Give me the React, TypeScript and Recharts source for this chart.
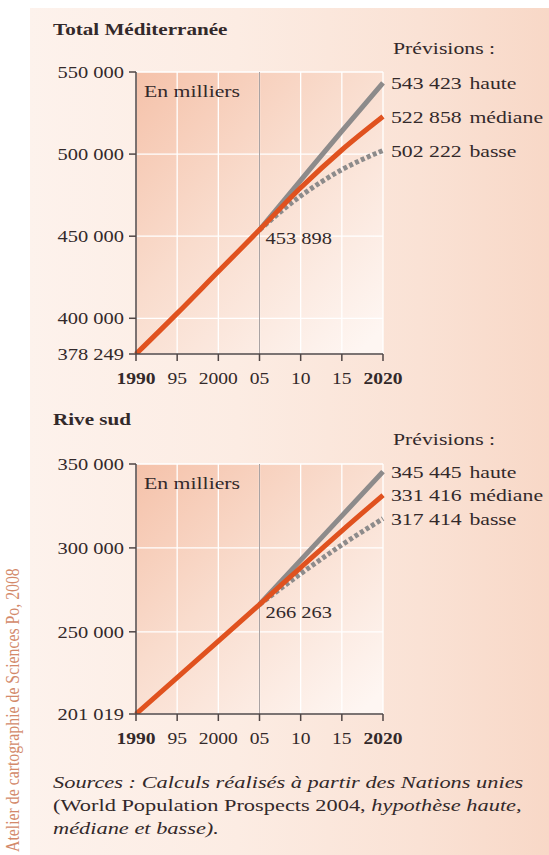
import React from 'react';
import { LineChart, Line, XAxis, YAxis, CartesianGrid, ReferenceLine, LabelList } from 'recharts';

const years = [1990, 1995, 2000, 2005, 2010, 2015, 2020];
const yearLabels = ['1990', '95', '2000', '05', '10', '15', '2020'];

const totalMediane = [378249, 403000, 428500, 453898, 479500, 502500, 522858];
const totalHaute = [null, null, null, 453898, 484000, 514000, 543423];
const totalBasse = [null, null, null, 453898, 474500, 490500, 502222];
const totalTicks = [378249, 400000, 450000, 500000, 550000];

const sudMediane = [201019, 222700, 244500, 266263, 288300, 310200, 331416];
const sudHaute = [null, null, null, 266263, 292700, 319100, 345445];
const sudBasse = [null, null, null, 266263, 284600, 301800, 317414];
const sudTicks = [201019, 250000, 300000, 350000];

const FONT = '"Liberation Serif", "Times New Roman", serif';
const TEXT = '#33292a';
const AXIS = '#4f4646';
const ORANGE = '#e0521f';
const GREY = '#8d8b8b';
const S = 1.28;

const fr = (v: number) => String(v).replace(/\B(?=(\d{3})+(?!\d))/g, ' ');

const YTick = (props: any) => {
  const { x, y, payload } = props;
  return (
    <text transform={`translate(${x},${y}) scale(${S},1)`} textAnchor="end" dy="0.36em"
      fontSize={16} fontFamily={FONT} fill={TEXT}>
      {fr(payload.value)}
    </text>
  );
};

const XTick = (props: any) => {
  const { x, y, payload } = props;
  const i = years.indexOf(payload.value);
  const bold = i === 0 || i === years.length - 1;
  return (
    <text transform={`translate(${x},${y}) scale(1.15,1)`} textAnchor="middle" dy={21}
      fontSize={17} fontFamily={FONT} fontWeight={bold ? 'bold' : 'normal'} fill={TEXT}>
      {yearLabels[i]}
    </text>
  );
};

const endLabel = (name: string, showStart: boolean) => (props: any) => {
  const { x, y, value, index } = props;
  if (value == null) return null;
  if (showStart && index === 3) {
    return (
      <text transform={`translate(${x + 6},${y + 8}) scale(${S},1)`} dy="0.36em"
        fontSize={16} fontFamily={FONT} fill={TEXT}>
        {fr(value)}
      </text>
    );
  }
  if (index !== years.length - 1) return null;
  return (
    <text transform={`translate(${x + 8},${y}) scale(${S},1)`} dy="0.36em"
      fontSize={17} fontFamily={FONT} fill={TEXT}>
      {fr(value)}
      <tspan dx={6}>{name}</tspan>
    </text>
  );
};

function Panel({ mediane, haute, basse, ticks, top, height, marginTop, id }: any) {
  const data = years.map((year, i) => ({ year, mediane: mediane[i], haute: haute[i], basse: basse[i] }));
  return (
    <div style={{ position: 'absolute', left: 0, top, width: 549, height }}>
      <LineChart width={549} height={height} data={data}
        margin={{ top: marginTop, right: 166, bottom: 6, left: 36 }}>
        <defs>
          <linearGradient id={id} x1="0" y1="0" x2="0.9" y2="1">
            <stop offset="0%" stopColor="#f5c2aa" />
            <stop offset="45%" stopColor="#f9dccd" />
            <stop offset="100%" stopColor="#fef6f2" />
          </linearGradient>
        </defs>
        <CartesianGrid stroke="#ffffff" strokeWidth={1.3} fill={`url(#${id})`} fillOpacity={1} />
        <XAxis dataKey="year" type="number" domain={[1990, 2020]} ticks={years} height={40}
          tick={<XTick />} tickSize={7} stroke={AXIS} strokeWidth={1.5} interval={0} />
        <YAxis type="number" domain={[ticks[0], ticks[ticks.length - 1]]} ticks={ticks} width={100}
          tick={<YTick />} tickSize={7} tickMargin={5} stroke={AXIS} strokeWidth={1.5} interval={0}
          allowDataOverflow />
        <ReferenceLine x={2005} stroke="#aaa3a3" strokeWidth={1} />
        <Line type="monotone" dataKey="basse" stroke={GREY} strokeWidth={5} strokeDasharray="4 2.5" dot={false}
          activeDot={false} isAnimationActive={false}>
          <LabelList dataKey="basse" content={endLabel('basse', false)} />
        </Line>
        <Line type="monotone" dataKey="haute" stroke={GREY} strokeWidth={5} dot={false} activeDot={false}
          isAnimationActive={false}>
          <LabelList dataKey="haute" content={endLabel('haute', false)} />
        </Line>
        <Line type="monotone" dataKey="mediane" stroke={ORANGE} strokeWidth={5} dot={false} activeDot={false}
          isAnimationActive={false}>
          <LabelList dataKey="mediane" content={endLabel('médiane', true)} />
        </Line>
      </LineChart>
    </div>
  );
}

const T = (p: any) => (
  <text transform={`translate(${p.x},${p.y}) scale(${S},1)`} fontSize={p.size || 16}
    fontFamily={FONT} fill={TEXT} fontWeight={p.bold ? 'bold' : 'normal'}
    fontStyle={p.italic ? 'italic' : 'normal'}>
    {p.children}
  </text>
);

export default function App() {
  return (
    <div style={{ position: 'absolute', left: 0, top: 0, width: 549, height: 855, overflow: 'hidden', background: '#ffffff' }}>
      <div style={{
        position: 'absolute', left: 30, top: 8, right: 0, bottom: 0,
        background: 'linear-gradient(90deg, #fdf2ec 0%, #fcece3 40%, #fae2d5 75%, #f8d8c7 100%)',
      }} />
      <Panel mediane={totalMediane} haute={totalHaute} basse={totalBasse} ticks={totalTicks}
        top={0} height={400} marginTop={72} id="gTotal" />
      <Panel mediane={sudMediane} haute={sudHaute} basse={sudBasse} ticks={sudTicks}
        top={400} height={360} marginTop={64} id="gSud" />
      <svg width={549} height={855} style={{ position: 'absolute', left: 0, top: 0, pointerEvents: 'none' }}>
        <T x={53} y={35} size={16.5} bold>Total Méditerranée</T>
        <T x={393} y={54} size={17}>Prévisions :</T>
        <T x={144} y={97} size={17}>En milliers</T>
        <T x={53} y={425} size={16.5} bold>Rive sud</T>
        <T x={393} y={445} size={17}>Prévisions :</T>
        <T x={144} y={489} size={17}>En milliers</T>
        <T x={53} y={788} size={17.5} italic>Sources : Calculs réalisés à partir des Nations unies</T>
        <text transform={`translate(53,811) scale(${S},1)`} fontSize={17.5} fontFamily={FONT} fill={TEXT}>
          (World Population Prospects 2004, <tspan fontStyle="italic">hypothèse haute,</tspan>
        </text>
        <T x={53} y={834} size={17.5} italic>médiane et basse).</T>
        <text transform="translate(19,852) rotate(-90) scale(1,1.25)" fontSize={15.8}
          fontFamily={FONT} fill="#d3896a">
          Atelier de cartographie de Sciences Po, 2008
        </text>
      </svg>
    </div>
  );
}
